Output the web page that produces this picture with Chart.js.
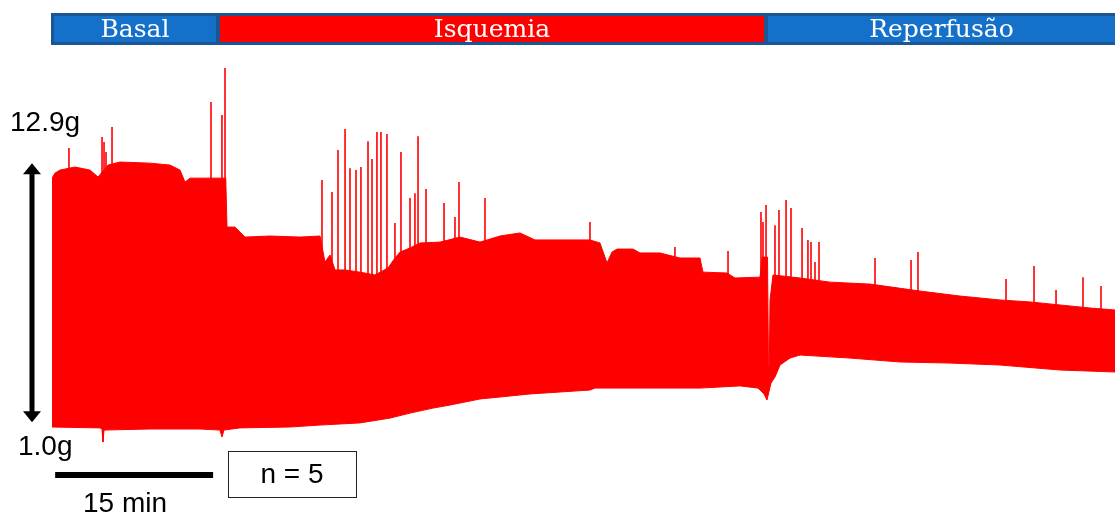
<!DOCTYPE html>
<html>
<head>
<meta charset="utf-8">
<title>Força de contração - Basal / Isquemia / Reperfusão</title>
<script src="https://cdn.jsdelivr.net/npm/chart.js@4.4.0/dist/chart.umd.min.js"></script>
<style>
  html, body { margin: 0; padding: 0; background: #fff; }
  canvas { display: block; }
</style>
</head>
<body>
<canvas id="traceChart" width="1115" height="518"></canvas>
<script>
// Time in minutes, force in grams

// Phases of the protocol
const phaseNames = ['Basal', 'Isquemia', 'Reperfusão'];
const phaseStart = [0, 15.76, 67.8];
const phaseEnd = [15.76, 67.8, 100.95];
const phaseColors = ['#1470c8', '#ff0000', '#1470c8'];

// Upper envelope of the contractions
const upperTime = [0, 0.28, 0.76, 2.18, 3.61, 4.37, 5.32, 6.46, 9.31, 11.21, 12.16, 12.63, 13.11, 14.81, 16.50,
  16.62, 17.38, 18.33, 20.70, 23.55, 25.45, 25.93, 26.40, 26.88, 27.83, 29.25, 30.67, 31.91, 32.57, 33.05,
  34.00, 34.95, 36.85, 38.75, 40.65, 42.55, 44.44, 45.87, 51.09, 52.04, 52.71, 53.18, 53.66, 55.18, 55.84,
  57.74, 59.64, 61.54, 61.82, 64.10, 64.86, 67.24, 67.45, 67.95, 68.04, 68.12, 68.19, 68.47, 71.04, 73.88,
  77.68, 82.43, 86.23, 90.03, 92.88, 95.73, 98.58, 100.95];
const upperForce = [12.22, 12.45, 12.59, 12.73, 12.59, 12.27, 12.82, 12.96, 12.91, 12.82, 12.59, 12.04, 12.22, 12.22, 12.22,
  9.97, 9.97, 9.51, 9.56, 9.51, 9.56, 8.36, 8.69, 8.00, 8.00, 7.90, 7.77, 8.09, 8.55, 8.82,
  9.01, 9.24, 9.28, 9.51, 9.28, 9.56, 9.70, 9.38, 9.38, 9.24, 8.32, 8.82, 8.96, 8.96, 8.78,
  8.78, 8.55, 8.55, 7.90, 7.86, 7.63, 7.67, 8.59, 8.59, 3.60, 3.60, 6.62, 7.77, 7.63, 7.44,
  7.35, 7.03, 6.80, 6.62, 6.53, 6.39, 6.25, 6.16];

// Lower envelope (diastolic tension)
const lowerTime = [0, 4.56, 4.75, 4.84, 4.94, 9.31, 14.06, 15.95, 16.14, 16.33, 17.85, 22.60, 25.45, 29.25,
  32.10, 34.00, 36.18, 37.80, 40.65, 42.55, 45.39, 48.24, 51.09, 51.57, 61.54, 65.34, 67.05, 67.62, 67.90,
  68.28, 68.66, 69.14, 70.09, 71.04, 75.78, 80.53, 85.28, 90.03, 95.73, 100.95];
const lowerForce = [0.78, 0.74, 0.69, 0.09, 0.64, 0.69, 0.69, 0.64, 0.32, 0.64, 0.74, 0.78, 0.87, 0.97,
  1.19, 1.42, 1.65, 1.79, 2.07, 2.16, 2.30, 2.39, 2.48, 2.57, 2.57, 2.67, 2.57, 2.30, 2.02,
  2.80, 3.08, 3.63, 3.95, 4.09, 3.95, 3.77, 3.72, 3.63, 3.40, 3.31];

// Isolated spikes above the envelope
const spikeTime = [1.61, 4.75, 4.94, 5.13, 5.70, 15.10, 16.14, 16.43,
  25.64, 26.59, 27.16, 27.83, 28.30, 28.87, 29.34, 30.01, 30.39, 30.86, 31.24, 31.81, 32.57, 33.14,
  34.00, 34.47, 34.76, 35.52, 37.23, 38.27, 38.65, 41.12, 51.09, 59.16, 64.20,
  67.33, 67.52, 67.81, 68.66, 69.04, 69.71, 70.18, 71.23, 71.79, 72.08, 72.46, 72.84,
  78.16, 81.58, 82.24, 90.60, 93.26, 95.35, 97.91, 99.62];
const spikeForce = [13.60, 14.11, 13.88, 13.42, 14.57, 15.72, 15.12, 17.28,
  12.13, 11.58, 13.51, 14.48, 12.68, 12.59, 12.73, 13.92, 13.10, 14.34, 14.34, 14.25, 10.16, 13.42,
  11.31, 11.53, 14.15, 11.72, 11.08, 10.43, 12.04, 11.31, 10.20, 9.05, 8.87,
  10.66, 10.20, 10.98, 10.06, 10.75, 11.21, 10.85, 9.93, 9.38, 9.28, 8.36, 9.28,
  8.55, 8.46, 8.82, 7.58, 8.18, 7.08, 7.67, 7.26];

// spikes start inside the red band
const spikeFloor = 5;

const upperData = upperTime.map((t, i) => ({ x: t, y: upperForce[i] }));
const lowerData = lowerTime.map((t, i) => ({ x: t, y: lowerForce[i] }));
const spikeData = [];
spikeTime.forEach((t, i) => {
    spikeData.push({ x: t, y: spikeFloor });
    spikeData.push({ x: t, y: spikeForce[i] });
    spikeData.push({ x: t, y: null });
});

// Draws the phase bar, calibration arrow, time bar and n box
const overlayPlugin = {
    id: 'overlay',
    afterDraw(chart) {
        const ctx = chart.ctx;
        const xs = chart.scales.x;
        const ys = chart.scales.y;
        ctx.save();

        // phase bar
        const barTop = 13, barBottom = 45;
        const barLeft = xs.getPixelForValue(phaseStart[0]) - 1;
        ctx.fillStyle = '#1b5594';
        ctx.fillRect(barLeft, barTop, xs.right - barLeft, barBottom - barTop);
        ctx.font = '25px "DejaVu Serif"';
        ctx.textAlign = 'center';
        ctx.textBaseline = 'alphabetic';
        for (let i = 0; i < phaseNames.length; i++) {
            const l = xs.getPixelForValue(phaseStart[i]) + (i === 0 ? 2 : 2);
            const r = i === phaseNames.length - 1 ? xs.right : xs.getPixelForValue(phaseEnd[i]) - 2;
            ctx.fillStyle = phaseColors[i];
            ctx.fillRect(l, barTop + 3, r - l, barBottom - barTop - 6);
            ctx.fillStyle = '#ffffff';
            ctx.fillText(phaseNames[i], (l + r) / 2, 37);
        }

        // calibration arrow 1.0g - 12.9g
        const ax = 32;
        const aTop = ys.getPixelForValue(12.9);
        const aBot = ys.getPixelForValue(1.0);
        ctx.fillStyle = '#000';
        ctx.strokeStyle = '#000';
        ctx.lineWidth = 5;
        ctx.beginPath();
        ctx.moveTo(ax, aTop + 8);
        ctx.lineTo(ax, aBot - 8);
        ctx.stroke();
        ctx.beginPath();
        ctx.moveTo(ax, aTop);
        ctx.lineTo(ax - 9, aTop + 11);
        ctx.lineTo(ax + 9, aTop + 11);
        ctx.closePath();
        ctx.fill();
        ctx.beginPath();
        ctx.moveTo(ax, aBot);
        ctx.lineTo(ax - 9, aBot - 11);
        ctx.lineTo(ax + 9, aBot - 11);
        ctx.closePath();
        ctx.fill();

        ctx.font = '28px "Liberation Sans", Arial, sans-serif';
        ctx.textAlign = 'left';
        ctx.fillText('12.9g', 10, 131);
        ctx.fillText('1.0g', 18, 455);

        // 15 min time bar
        ctx.lineWidth = 6;
        ctx.beginPath();
        ctx.moveTo(xs.getPixelForValue(0.3), 475);
        ctx.lineTo(xs.getPixelForValue(15.3), 475);
        ctx.stroke();
        ctx.textAlign = 'center';
        ctx.fillText('15 min', 125, 512);

        // n box
        ctx.lineWidth = 1;
        ctx.strokeStyle = '#222';
        ctx.strokeRect(228.5, 451.5, 128, 46);
        ctx.fillText('n = 5', 292, 483);

        ctx.restore();
    }
};

const ctx = document.getElementById('traceChart').getContext('2d');
const traceChart = new Chart(ctx, {
    type: 'line',
    data: {
        datasets: [{
            label: 'Envelope superior',
            data: upperData,
            borderColor: '#ff0000',
            backgroundColor: '#ff0000',
            borderWidth: 1,
            pointRadius: 0,
            tension: 0,
            fill: '+1'
        }, {
            label: 'Envelope inferior',
            data: lowerData,
            borderColor: '#ff0000',
            borderWidth: 1,
            pointRadius: 0,
            tension: 0,
            fill: false
        }, {
            label: 'Picos',
            data: spikeData,
            borderColor: '#ff0000',
            borderWidth: 1.6,
            pointRadius: 0,
            spanGaps: false,
            fill: false
        }]
    },
    options: {
        responsive: false,
        animation: false,
        devicePixelRatio: 1,
        layout: { padding: { left: 52, right: 0, top: 55, bottom: 74 } },
        plugins: {
            legend: { display: false },
            tooltip: { enabled: false }
        },
        scales: {
            x: { type: 'linear', min: 0, max: 100.95, display: false },
            y: { min: 0, max: 17.88, display: false }
        }
    },
    plugins: [overlayPlugin]
});
</script>
</body>
</html>
